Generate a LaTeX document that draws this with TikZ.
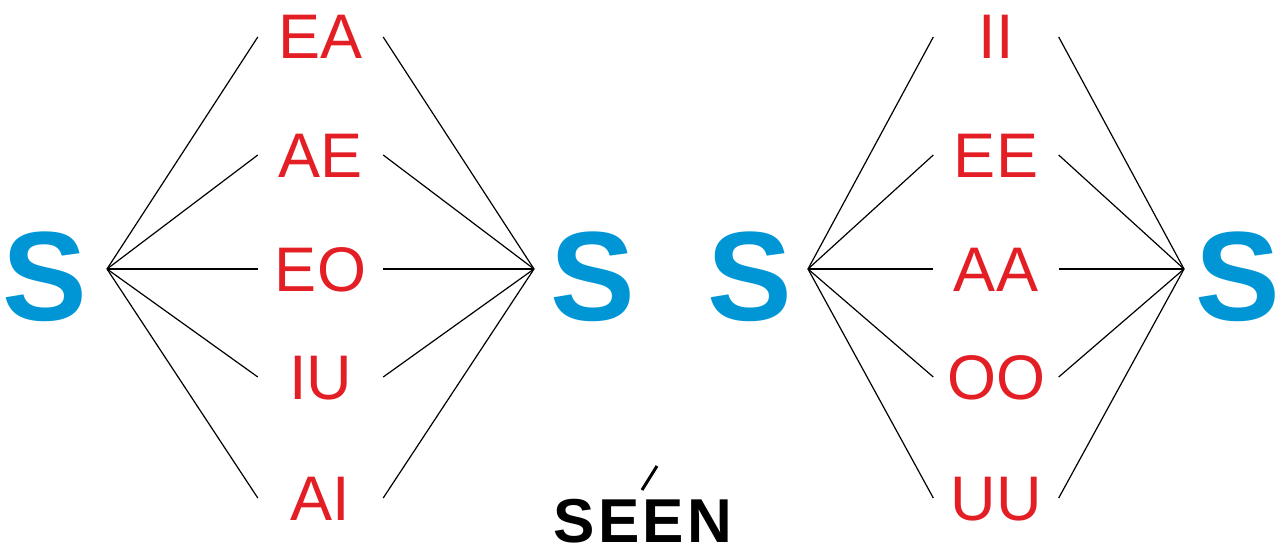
\documentclass[tikz,border=0pt]{standalone}
\usepackage{fontspec}
\setmainfont{Liberation Sans}
\definecolor{sblue}{RGB}{0,150,214}
\definecolor{vred}{RGB}{227,30,36}
\begin{document}
\begin{tikzpicture}[x=1pt,y=-1pt,
  bigS/.style={inner sep=0pt,anchor=base,text=sblue,font=\fontsize{127}{127}\selectfont\bfseries},
  vowel/.style={inner sep=0pt,anchor=base,text=vred,text height=44pt,text depth=0pt,minimum width=125pt,font=\fontsize{63}{63}\selectfont},
  conn/.style={line width=1.2pt,black}]
\useasboundingbox (0,0) rectangle (1282,551);
% big S letters
\node[bigS] (s1) at (45,320) {S};
\node[bigS] (s2) at (593,320) {S};
\node[bigS] (s3) at (750,320) {S};
\node[bigS] (s4) at (1238,320) {S};
% hubs
\coordinate (h1) at (107,269);
\coordinate (h2) at (534,269);
\coordinate (h3) at (808,269);
\coordinate (h4) at (1184,269);
% left group
\node[vowel] (ea) at (320.5,59) {EA};
\node[vowel] (ae) at (320.5,177) {AE};
\node[vowel] (eo) at (320.5,291) {EO};
\node[vowel] (iu) at (320.5,399) {IU};
\node[vowel] (ai) at (320.5,520) {AI};
% right group
\node[vowel] (ii) at (996,59) {II};
\node[vowel] (ee) at (996,177) {EE};
\node[vowel] (aa) at (996,291) {AA};
\node[vowel] (oo) at (996,399) {OO};
\node[vowel] (uu) at (996,520) {UU};
\foreach \n in {ea,ae,eo,iu,ai}{
  \draw[conn] (h1) -- (\n.west);
  \draw[conn] (\n.east) -- (h2);
}
\foreach \n in {ii,ee,aa,oo,uu}{
  \draw[conn] (h3) -- (\n.west);
  \draw[conn] (\n.east) -- (h4);
}
% SEEN
\node[inner sep=0pt,anchor=base,text depth=0pt,font=\fontsize{62}{62}\selectfont\bfseries\addfontfeature{LetterSpace=5}] (seen) at (643,542) {SEEN};
\coordinate (acA) at (642,490);
\coordinate (acB) at (657,466);
\draw[line width=3pt] (acA) -- (acB);
\end{tikzpicture}
\end{document}
